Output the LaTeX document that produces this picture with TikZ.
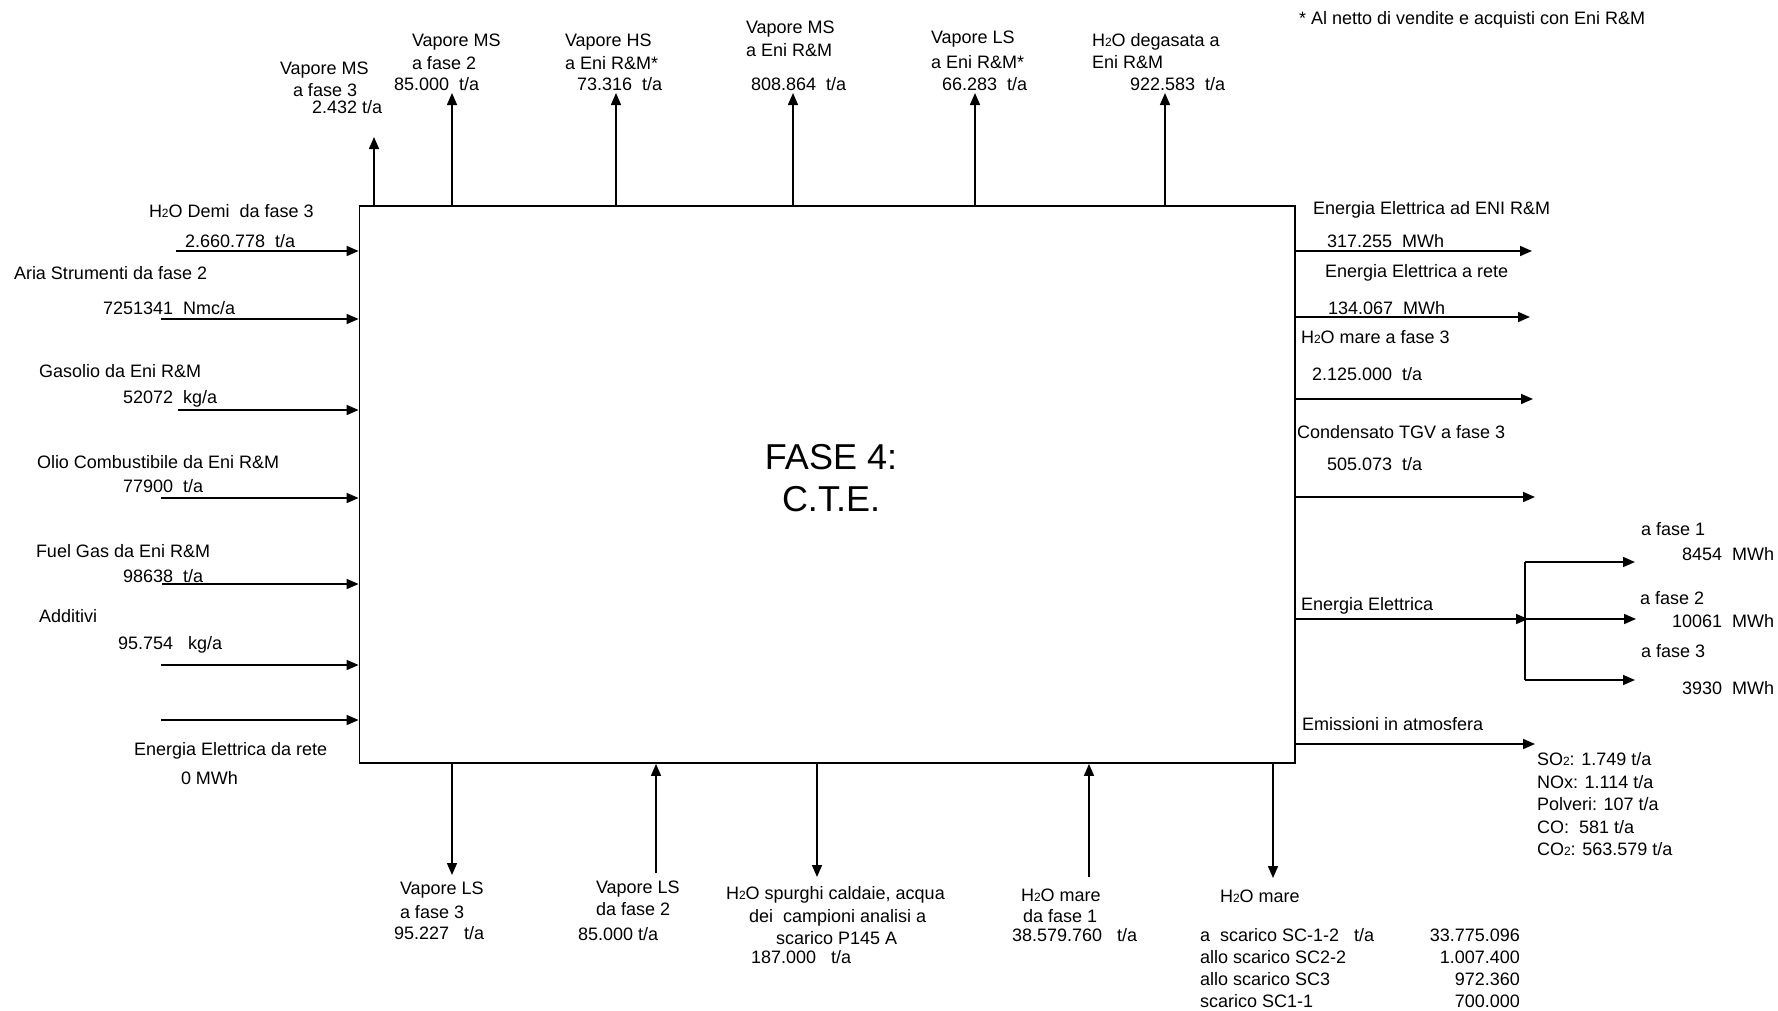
\documentclass[tikz,border=0pt]{standalone}
\usepackage{fontspec}
\setmainfont{Liberation Sans}
\usetikzlibrary{arrows.meta}
\newcommand{\hh}{H{\fontsize{12}{12}\selectfont 2}O}
\newcommand{\tw}{{\fontsize{12}{12}\selectfont 2}}
\tikzset{
  lbl/.style={anchor=base west, inner sep=0pt, outer sep=0pt, yshift=-6.5pt},
  rlbl/.style={anchor=base east, inner sep=0pt, outer sep=0pt, yshift=-6.5pt},
  arr/.style={line width=1.6pt, -{Triangle[length=12pt,width=10pt]}},
  ln/.style={line width=1.6pt},
  mainbox/.style={draw, line width=1.8pt, minimum width=935.5pt, minimum height=557pt, inner sep=0pt}
}
\begin{document}
\begin{tikzpicture}[x=1pt,y=-1pt, font=\fontsize{18}{21}\selectfont]
\useasboundingbox (0,0) rectangle (1778,1010);
% main box
\node[mainbox] (box) at (827.25,484.5) {};
\node[align=center, font=\fontsize{36}{42}\selectfont, inner sep=0pt] (title) at (831,478) {FASE 4:\\C.T.E.};

% ---------- top outputs ----------
\coordinate (tA) at (374,137);
\coordinate (tB) at (452,93);
\coordinate (tC) at (616,93);
\coordinate (tD) at (793,93);
\coordinate (tE) at (975,93);
\coordinate (tF) at (1165,93);
\foreach \c in {tA,tB,tC,tD,tE,tF} \draw[arr] (box.north -| \c) -- (\c);

\node[lbl] (t1a) at (280,68) {Vapore MS};
\node[lbl] (t1b) at (293,90) {a fase 3};
\node[lbl] (t1c) at (312,107) {2.432 t/a};
\node[lbl] (t2a) at (412,40) {Vapore MS};
\node[lbl] (t2b) at (412,63) {a fase 2};
\node[lbl] (t2c) at (394,84) {85.000\ \ t/a};
\node[lbl] (t3a) at (565,40) {Vapore HS};
\node[lbl] (t3b) at (565,63) {a Eni R\&M*};
\node[lbl] (t3c) at (577,84) {73.316\ \ t/a};
\node[lbl] (t4a) at (746,27) {Vapore MS};
\node[lbl] (t4b) at (746,50) {a Eni R\&M};
\node[lbl] (t4c) at (751,84) {808.864\ \ t/a};
\node[lbl] (t5a) at (931,37) {Vapore LS};
\node[lbl] (t5b) at (931,62) {a Eni R\&M*};
\node[lbl] (t5c) at (942,84) {66.283\ \ t/a};
\node[lbl] (t6a) at (1092,40) {\hh{} degasata a};
\node[lbl] (t6b) at (1092,62) {Eni R\&M};
\node[lbl] (t6c) at (1130,84) {922.583\ \ t/a};
\node[lbl] (note) at (1299,18) {* Al netto di vendite e acquisti con Eni R\&M};

% ---------- left inputs ----------
\coordinate (lA) at (176,251);
\coordinate (lB) at (161,319);
\coordinate (lC) at (178,410);
\coordinate (lD) at (161,498);
\coordinate (lE) at (162,584);
\coordinate (lF) at (161,665);
\coordinate (lG) at (161,720);
\foreach \c in {lA,lB,lC,lD,lE,lF,lG} \draw[arr] (\c) -- (\c -| box.west);

\node[lbl] (l1a) at (149,211) {\hh{} Demi\ \ da fase 3};
\node[lbl] (l1b) at (185,241) {2.660.778\ \ t/a};
\node[lbl] (l2a) at (14,273) {Aria Strumenti da fase 2};
\node[lbl] (l2b) at (103,308) {7251341\ \ Nmc/a};
\node[lbl] (l3a) at (39,371) {Gasolio da Eni R\&M};
\node[lbl] (l3b) at (123,397) {52072\ \ kg/a};
\node[lbl] (l4a) at (37,462) {Olio Combustibile da Eni R\&M};
\node[lbl] (l4b) at (123,486) {77900\ \ t/a};
\node[lbl] (l5a) at (36,551) {Fuel Gas da Eni R\&M};
\node[lbl] (l5b) at (123,576) {98638\ \ t/a};
\node[lbl] (l6a) at (39,616) {Additivi};
\node[lbl] (l6b) at (118,643) {95.754\ \ \ kg/a};
\node[lbl] (l7a) at (134,749) {Energia Elettrica da rete};
\node[lbl] (l7b) at (181,778) {0 MWh};

% ---------- right outputs ----------
\coordinate (rA) at (1532,251);
\coordinate (rB) at (1530,317);
\coordinate (rC) at (1533,399);
\coordinate (rD) at (1535,497);
\coordinate (rF) at (1535,744);
\foreach \c in {rA,rB,rC,rD,rF} \draw[arr] (\c -| box.east) -- (\c);

\coordinate (jn) at (1528,619);
\coordinate (jt) at (1525,562);
\coordinate (jm) at (1525,619);
\coordinate (jb) at (1525,680);
\coordinate (e1) at (1635,562);
\coordinate (e2) at (1636,619);
\coordinate (e3) at (1635,680);
\draw[arr] (jn -| box.east) -- (jn);
\draw[ln] (jt) -- (jb);
\draw[arr] (jt) -- (e1);
\draw[arr] (jm) -- (e2);
\draw[arr] (jb) -- (e3);

\node[lbl] (r1a) at (1313,208) {Energia Elettrica ad ENI R\&M};
\node[lbl] (r1b) at (1327,241) {317.255\ \ MWh};
\node[lbl] (r2a) at (1325,271) {Energia Elettrica a rete};
\node[lbl] (r2b) at (1328,308) {134.067\ \ MWh};
\node[lbl] (r3a) at (1301,337) {\hh{} mare a fase 3};
\node[lbl] (r3b) at (1312,374) {2.125.000\ \ t/a};
\node[lbl] (r4a) at (1297,432) {Condensato TGV a fase 3};
\node[lbl] (r4b) at (1327,464) {505.073\ \ t/a};
\node[lbl] (r5a) at (1301,604) {Energia Elettrica};
\node[lbl] (f1a) at (1641,529) {a fase 1};
\node[lbl] (f1b) at (1682,554) {8454\ \ MWh};
\node[lbl] (f2a) at (1640,598) {a fase 2};
\node[lbl] (f2b) at (1672,621) {10061\ \ MWh};
\node[lbl] (f3a) at (1641,651) {a fase 3};
\node[lbl] (f3b) at (1682,688) {3930\ \ MWh};
\node[lbl] (r6a) at (1302,724) {Emissioni in atmosfera};
\node[lbl] (m1) at (1537,759) {SO\tw: 1.749 t/a};
\node[lbl] (m2) at (1537,782) {NOx: 1.114 t/a};
\node[lbl] (m3) at (1537,804) {Polveri: 107 t/a};
\node[lbl] (m4) at (1537,827) {CO:\ \ 581 t/a};
\node[lbl] (m5) at (1537,849) {CO\tw: 563.579 t/a};

% ---------- bottom ----------
\coordinate (bA) at (452,875);
\coordinate (bB) at (656,873);
\coordinate (bC) at (817,877);
\coordinate (bD) at (1089,877);
\coordinate (bE) at (1273,878);
\draw[arr] (bA |- box.south) -- (bA);
\draw[arr] (bB) -- (bB |- box.south);
\draw[arr] (bC |- box.south) -- (bC);
\draw[arr] (bD) -- (bD |- box.south);
\draw[arr] (bE |- box.south) -- (bE);

\node[lbl] (b1a) at (400,888) {Vapore LS};
\node[lbl] (b1b) at (400,912) {a fase 3};
\node[lbl] (b1c) at (394,933) {95.227\ \ \ t/a};
\node[lbl] (b2a) at (596,887) {Vapore LS};
\node[lbl] (b2b) at (596,909) {da fase 2};
\node[lbl] (b2c) at (578,934) {85.000 t/a};
\node[lbl] (b3a) at (726,893) {\hh{} spurghi caldaie, acqua};
\node[lbl] (b3b) at (749,916) {dei\ \ campioni analisi a};
\node[lbl] (b3c) at (776,938) {scarico P145 A};
\node[lbl] (b3d) at (751,957) {187.000\ \ \ t/a};
\node[lbl] (b4a) at (1021,895) {\hh{} mare};
\node[lbl] (b4b) at (1023,916) {da fase 1};
\node[lbl] (b4c) at (1012,935) {38.579.760\ \ \ t/a};
\node[lbl] (b5a) at (1220,896) {\hh{} mare};
\node[lbl] (s1) at (1200,935) {a\ \ scarico SC-1-2\ \ \ t/a};
\node[lbl] (s2) at (1200,957) {allo scarico SC2-2};
\node[lbl] (s3) at (1200,979) {allo scarico SC3};
\node[lbl] (s4) at (1200,1001) {scarico SC1-1};
\node[rlbl] (v1) at (1520,935) {33.775.096};
\node[rlbl] (v2) at (1520,957) {1.007.400};
\node[rlbl] (v3) at (1520,979) {972.360};
\node[rlbl] (v4) at (1520,1001) {700.000};
\end{tikzpicture}
\end{document}
